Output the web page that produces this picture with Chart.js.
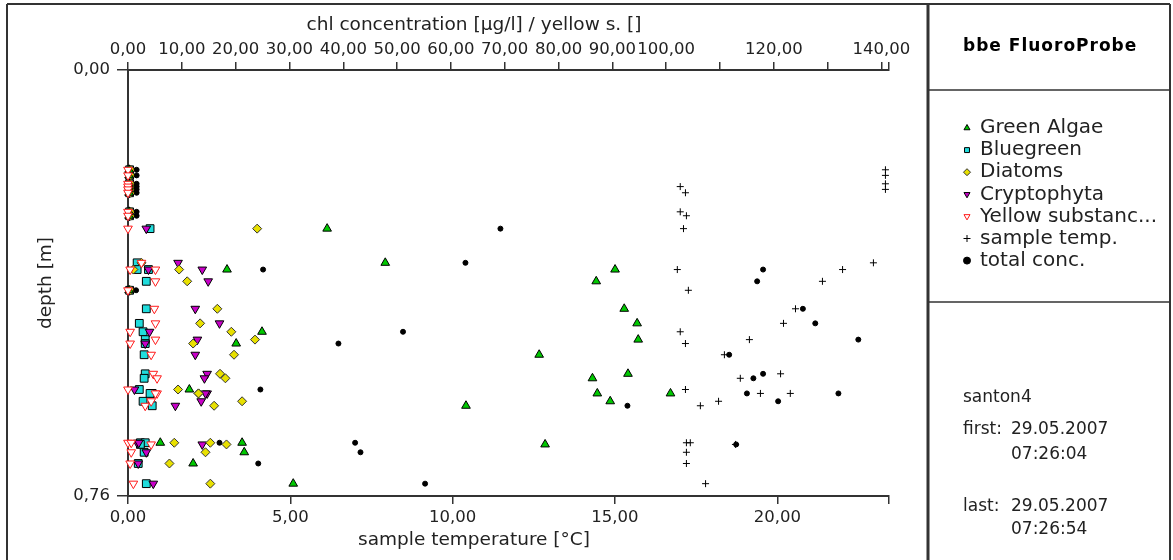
<!DOCTYPE html>
<html>
<head>
<meta charset="utf-8">
<script src="https://cdn.jsdelivr.net/npm/chart.js@4.4.1/dist/chart.umd.min.js"></script>
<style>
  html, body { margin: 0; padding: 0; background: #fff; }
</style>
</head>
<body>
<canvas id="probeChart" width="1173" height="560"></canvas>
<script>
// probe readings, one entry per measurement
const depth      = [0.178, 0.188, 0.203, 0.208, 0.213, 0.219, 0.253, 0.260, 0.283, 0.344, 0.356, 0.356, 0.377, 0.393, 0.426, 0.452, 0.467, 0.481, 0.488, 0.508, 0.542, 0.550, 0.570, 0.577, 0.577, 0.591, 0.599, 0.665, 0.665, 0.668, 0.682, 0.702, 0.738];
const greenAlgae = [0.2, 0.2, 0.2, 0.2, 0.2, 0.2, 0.2, 0.2, 37.0, 47.8, 18.4, 90.5, 87.0, 0.2, 92.2, 94.6, 24.9, 94.8, 20.1, 76.4, 92.9, 86.3, 11.4, 87.2, 100.8, 89.6, 62.8, 6.0, 21.2, 77.5, 21.6, 12.1, 30.7];
const bluegreen  = [0.3, 0.3, 0.3, 0.3, 0.3, 0.3, 0.3, 0.3, 4.1, 1.7, 1.7, 3.8, 3.4, 0.3, 3.4, 2.1, 2.8, 3.2, 3.2, 3.0, 3.2, 3.0, 2.1, 4.5, 4.1, 2.8, 4.5, 2.3, 3.2, 2.3, 3.0, 1.9, 3.4];
const diatoms    = [0.5, 0.5, 0.5, 0.5, 0.5, 0.5, 0.5, 0.5, 24.0, 2.5, 1.0, 9.5, 11.0, 0.5, 16.6, 13.4, 19.2, 23.6, 12.1, 19.7, 17.1, 18.1, 9.3, 13.1, 13.1, 21.2, 16.0, 8.6, 15.3, 18.3, 14.4, 7.7, 15.3];
const crypto     = [0.3, 0.3, 0.3, 0.3, 0.3, 0.3, 0.3, 0.3, 3.4, 9.3, 3.8, 13.8, 14.9, 0.3, 12.5, 17.0, 4.0, 12.9, 3.2, 12.5, 14.7, 14.2, 1.2, 14.7, 14.4, 13.6, 8.8, 1.7, 2.0, 13.8, 3.4, 1.9, 4.7];
const yellowSub  = [0.0, 0.0, 0.0, 0.0, 0.0, 0.0, 0.0, 0.0, 0.0, 2.5, 0.4, 5.1, 5.1, 0.0, 4.9, 5.1, 0.4, 5.1, 0.4, 4.3, 4.7, 5.4, 0.0, 5.4, 5.1, 4.3, 3.2, 0.0, 0.6, 4.3, 0.6, 0.4, 1.0];
const sampleTemp = [23.33, 23.33, 23.33, 17.01, 23.33, 17.17, 17.01, 17.20, 17.11, 22.96, 16.92, 22.01, 21.39, 17.26, 20.56, 20.19, 17.01, 19.14, 17.17, 18.37, 20.10, 18.86, 17.17, 19.48, 20.40, 18.19, 17.63, 17.32, 17.20, 18.71, 17.20, 17.20, 17.79];
const totalConc  = [1.6, 1.6, 1.6, 1.6, 1.6, 1.6, 1.6, 1.6, 69.2, 62.7, 25.1, 118.0, 116.9, 1.5, 125.4, 127.7, 51.1, 135.7, 39.1, 111.7, 118.0, 116.2, 24.6, 115.0, 132.0, 120.8, 92.8, 17.0, 42.2, 113.0, 43.2, 24.2, 55.2];

// axis ticks
const chlTicks   = [0, 10, 20, 30, 40, 50, 60, 70, 80, 90, 100, 110, 120, 130, 140, 141.4];
const chlLabeled = [0, 10, 20, 30, 40, 50, 60, 70, 80, 90, 100, 120, 140];
const tempTicks  = [0, 5, 10, 15, 20, 23.44];
const tempLabeled = [0, 5, 10, 15, 20];
const depthTicks = [0, 0.76];

const FONT = 'DejaVu Sans';
const INK = '#222';
const AXIS = '#333';

function toPoints(values) {
  return values.map((v, i) => ({ x: v, y: depth[i] }));
}
function comma(v) {
  return v.toFixed(2).replace('.', ',');
}

// order: lower is painted later, so the open red triangles sit on top
const series = [
  { label: 'Green Algae',        values: greenAlgae, axis: 'chl',  style: 'triangle', rotation: 0,   fill: '#00c800', stroke: '#000', radius: 5, order: 1 },
  { label: 'Bluegreen',          values: bluegreen,  axis: 'chl',  style: 'rect',     rotation: 0,   fill: '#20dcdc', stroke: '#000', radius: 5.5, order: 3 },
  { label: 'Diatoms',            values: diatoms,    axis: 'chl',  style: 'rectRot',  rotation: 0,   fill: '#e8e000', stroke: '#333', radius: 4.5, order: 2 },
  { label: 'Cryptophyta',        values: crypto,     axis: 'chl',  style: 'triangle', rotation: 180, fill: '#c800c8', stroke: '#000', radius: 5, order: 2 },
  { label: 'Yellow substanc...', values: yellowSub,  axis: 'chl',  style: 'triangle', rotation: 180, fill: '#ffffff', stroke: '#ff1a1a', radius: 5, order: 0 },
  { label: 'sample temp.',       values: sampleTemp, axis: 'temp', style: 'cross',    rotation: 0,   fill: '#000', stroke: '#000', radius: 3.5, order: 0 },
  { label: 'total conc.',        values: totalConc,  axis: 'chl',  style: 'circle',   rotation: 0,   fill: '#000', stroke: '#000', radius: 2.5, order: 0 }
];

const datasets = series.map(s => ({
  label: s.label,
  data: toPoints(s.values),
  xAxisID: s.axis,
  yAxisID: 'depth',
  order: s.order,
  showLine: false,
  clip: false,
  pointStyle: s.style,
  pointRotation: s.rotation,
  pointRadius: s.radius,
  pointHoverRadius: s.radius,
  pointBackgroundColor: s.fill,
  pointBorderColor: s.stroke,
  pointBorderWidth: 1,
  backgroundColor: s.fill,
  borderColor: s.stroke
}));

// frame, info panel, legend and axis titles
const sheet = {
  id: 'sheet',
  afterDraw(chart) {
    const ctx = chart.ctx;
    ctx.save();

    ctx.strokeStyle = AXIS;
    ctx.lineWidth = 2;
    ctx.beginPath();
    ctx.moveTo(7, 4); ctx.lineTo(1170, 4);
    ctx.moveTo(7, 4); ctx.lineTo(7, 560);
    ctx.moveTo(1170, 4); ctx.lineTo(1170, 560);
    ctx.stroke();
    ctx.lineWidth = 3;
    ctx.beginPath();
    ctx.moveTo(928, 4); ctx.lineTo(928, 560);
    ctx.stroke();
    ctx.lineWidth = 1.5;
    ctx.beginPath();
    ctx.moveTo(928, 90); ctx.lineTo(1170, 90);
    ctx.moveTo(928, 302); ctx.lineTo(1170, 302);
    ctx.stroke();

    ctx.fillStyle = INK;
    ctx.textBaseline = 'middle';
    ctx.textAlign = 'center';
    ctx.font = '18.5px "' + FONT + '"';
    ctx.fillText('chl concentration [µg/l] / yellow s. []', 474, 25);
    ctx.fillText('sample temperature [°C]', 474, 540);
    ctx.save();
    ctx.translate(46, 283);
    ctx.rotate(-Math.PI / 2);
    ctx.fillText('depth [m]', 0, 0);
    ctx.restore();

    ctx.textAlign = 'left';
    ctx.fillStyle = '#000';
    ctx.font = 'bold 17px "' + FONT + '"';
    ctx.letterSpacing = '1px';
    ctx.fillText('bbe FluoroProbe', 963, 47);
    ctx.letterSpacing = '0px';

    ctx.font = '20px "' + FONT + '"';
    series.forEach((s, i) => {
      const y = 128 + i * 22.1;
      ctx.fillStyle = s.fill;
      ctx.strokeStyle = s.stroke;
      ctx.lineWidth = 1;
      Chart.helpers.drawPoint(ctx, { pointStyle: s.style, rotation: s.rotation, radius: 3.5, borderWidth: 1 }, 967, y);
      ctx.fillStyle = INK;
      ctx.fillText(s.label, 980, y);
    });

    ctx.font = '17px "' + FONT + '"';
    ctx.fillText('santon4', 963, 398);
    ctx.fillText('first:', 963, 430);
    ctx.fillText('29.05.2007', 1011, 430);
    ctx.fillText('07:26:04', 1011, 455);
    ctx.fillText('last:', 963, 507);
    ctx.fillText('29.05.2007', 1011, 507);
    ctx.fillText('07:26:54', 1011, 530);
    ctx.restore();
  }
};

const tickFont = { family: FONT, size: 16.5 };

new Chart(document.getElementById('probeChart'), {
  type: 'scatter',
  data: { datasets: datasets },
  options: {
    responsive: false,
    animation: false,
    devicePixelRatio: 1,
    layout: { padding: { left: 0, top: 0, right: 284, bottom: 0 } },
    plugins: { legend: { display: false }, tooltip: { enabled: false } },
    scales: {
      chl: {
        type: 'linear', axis: 'x', position: 'top',
        min: 0, max: 141.4,
        afterBuildTicks: s => { s.ticks = chlTicks.map(v => ({ value: v })); },
        afterFit: s => { s.height = 70; },
        grid: { drawOnChartArea: false, tickLength: 8, color: AXIS, lineWidth: 1.5 },
        border: { color: AXIS, width: 2 },
        ticks: {
          autoSkip: false, maxRotation: 0, padding: 2, color: INK, font: tickFont,
          callback: v => chlLabeled.includes(v) ? comma(v) : ''
        }
      },
      temp: {
        type: 'linear', axis: 'x', position: 'bottom',
        min: 0, max: 23.44,
        afterBuildTicks: s => { s.ticks = tempTicks.map(v => ({ value: v })); },
        afterFit: s => { s.height = 64; },
        grid: { drawOnChartArea: false, tickLength: 8, color: AXIS, lineWidth: 1.5 },
        border: { color: AXIS, width: 2 },
        ticks: {
          autoSkip: false, maxRotation: 0, padding: 4, color: INK, font: tickFont,
          callback: v => tempLabeled.includes(v) ? comma(v) : ''
        }
      },
      depth: {
        type: 'linear', axis: 'y', position: 'left',
        min: 0, max: 0.76, reverse: true,
        afterBuildTicks: s => { s.ticks = depthTicks.map(v => ({ value: v })); },
        afterFit: s => { s.width = 128; },
        grid: { drawOnChartArea: false, tickLength: 11, color: AXIS, lineWidth: 1.5 },
        border: { color: AXIS, width: 2 },
        ticks: { autoSkip: false, padding: 7, color: INK, font: tickFont, callback: v => comma(v) }
      }
    }
  },
  plugins: [sheet]
});
</script>
</body>
</html>
